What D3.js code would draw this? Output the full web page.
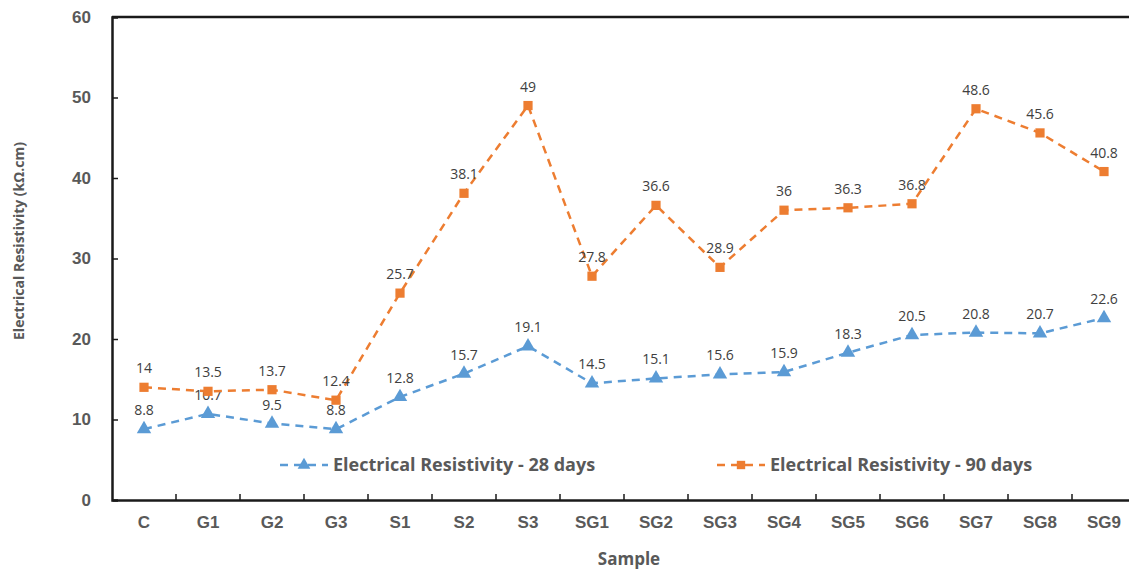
<!DOCTYPE html>
<html>
<head>
<meta charset="utf-8">
<script src="https://cdn.jsdelivr.net/npm/d3@7"></script>
<style>
  body { margin: 0; background: #fff; }
  svg { display: block; font-family: "Open Sans", "DejaVu Sans", sans-serif; }
</style>
</head>
<body>
<div id="chart"></div>
<script>
// sample names and measured values
var samples = ["C", "G1", "G2", "G3", "S1", "S2", "S3", "SG1", "SG2", "SG3", "SG4", "SG5", "SG6", "SG7", "SG8", "SG9"];
var days28 = [8.8, 10.7, 9.5, 8.8, 12.8, 15.7, 19.1, 14.5, 15.1, 15.6, 15.9, 18.3, 20.5, 20.8, 20.7, 22.6];
var days90 = [14, 13.5, 13.7, 12.4, 25.7, 38.1, 49, 27.8, 36.6, 28.9, 36, 36.3, 36.8, 48.6, 45.6, 40.8];
var yTicks = [0, 10, 20, 30, 40, 50, 60];
var seriesNames = ["Electrical Resistivity - 28 days", "Electrical Resistivity - 90 days"];

var width = 1129, height = 571;
var plotLeft = 112, plotTop = 17, plotBottom = 500;

var svg = d3.select("#chart").append("svg")
    .attr("width", width)
    .attr("height", height);

var x = d3.scaleBand()
    .domain(samples)
    .range([plotLeft, plotLeft + 64 * samples.length]);

var y = d3.scaleLinear()
    .domain([0, 60])
    .range([plotBottom, plotTop]);

// top border line
svg.append("line")
    .attr("x1", plotLeft).attr("x2", width)
    .attr("y1", plotTop).attr("y2", plotTop)
    .style("stroke", "#1a1a1a").style("stroke-width", 2.5);

// y axis
var yAxis = svg.append("g")
    .attr("transform", "translate(" + plotLeft + ",0)")
    .call(d3.axisLeft(y).tickValues(yTicks).tickSize(-6).tickPadding(21));
yAxis.select(".domain").style("stroke", "#1a1a1a").style("stroke-width", 2.5);
yAxis.selectAll(".tick line").style("stroke", "#1a1a1a").style("stroke-width", 1.5);
yAxis.selectAll(".tick line").filter(function(d) { return d === 0 || d === 60; }).remove();
yAxis.selectAll("text")
    .style("font-size", "17px").style("font-weight", "bold").style("fill", "#595959");

// x axis, ticks between categories
var xAxis = svg.append("g")
    .attr("transform", "translate(0," + plotBottom + ")")
    .call(d3.axisBottom(x).tickSize(0).tickPadding(16));
xAxis.select(".domain").style("stroke", "#1a1a1a").style("stroke-width", 2.5);
xAxis.selectAll("text")
    .style("font-size", "17px").style("font-weight", "bold").style("fill", "#595959");
xAxis.selectAll(".sep")
    .data(samples.slice(1))
    .enter().append("line")
    .attr("class", "sep")
    .attr("x1", function(d) { return x(d); })
    .attr("x2", function(d) { return x(d); })
    .attr("y1", 0).attr("y2", -6)
    .style("stroke", "#1a1a1a").style("stroke-width", 1.5);

// axis titles
svg.append("text")
    .attr("transform", "translate(24,241) rotate(-90)")
    .attr("text-anchor", "middle")
    .style("font-size", "14px").style("font-weight", "bold").style("fill", "#595959")
    .text("Electrical Resistivity (kΩ.cm)");

svg.append("text")
    .attr("x", 629).attr("y", 565)
    .attr("text-anchor", "middle")
    .style("font-size", "17px").style("font-weight", "bold").style("fill", "#595959")
    .text("Sample");

var line = d3.line()
    .x(function(d, i) { return x(samples[i]) + x.bandwidth() / 2; })
    .y(function(d) { return y(d); });

function drawSeries(values, color, shape) {
    var g = svg.append("g");
    g.append("path")
        .datum(values)
        .attr("d", line)
        .style("fill", "none")
        .style("stroke", color)
        .style("stroke-width", 2.5)
        .style("stroke-dasharray", "8,6");
    g.selectAll(".pt")
        .data(values)
        .enter().append("path")
        .attr("class", "pt")
        .attr("transform", function(d, i) {
            return "translate(" + (x(samples[i]) + x.bandwidth() / 2) + "," + y(d) + ")";
        })
        .attr("d", d3.symbol().type(shape).size(shape === d3.symbolTriangle ? 90 : 85))
        .style("fill", color);
    g.selectAll(".lbl")
        .data(values)
        .enter().append("text")
        .attr("class", "lbl")
        .attr("x", function(d, i) { return x(samples[i]) + x.bandwidth() / 2; })
        .attr("y", function(d) { return y(d) - 14; })
        .attr("text-anchor", "middle")
        .style("font-size", "14px").style("fill", "#404040")
        .text(function(d) { return d; });
}

drawSeries(days28, "#5B9BD5", d3.symbolTriangle);
drawSeries(days90, "#ED7D31", d3.symbolSquare);

// legend
var legend = [
    { name: seriesNames[0], color: "#5B9BD5", shape: d3.symbolTriangle, x: 280 },
    { name: seriesNames[1], color: "#ED7D31", shape: d3.symbolSquare, x: 717 }
];
var lg = svg.selectAll(".legend")
    .data(legend)
    .enter().append("g")
    .attr("class", "legend")
    .attr("transform", function(d) { return "translate(" + d.x + ",465)"; });
lg.append("line")
    .attr("x1", 0).attr("x2", 48).attr("y1", 0).attr("y2", 0)
    .style("stroke", function(d) { return d.color; })
    .style("stroke-width", 2.5)
    .style("stroke-dasharray", "8,6");
lg.append("path")
    .attr("transform", "translate(24,0)")
    .attr("d", function(d) { return d3.symbol().type(d.shape).size(70)(); })
    .style("fill", function(d) { return d.color; });
lg.append("text")
    .attr("x", 53).attr("y", 6)
    .style("font-size", "18px").style("font-weight", "bold").style("fill", "#595959")
    .text(function(d) { return d.name; });
</script>
</body>
</html>
